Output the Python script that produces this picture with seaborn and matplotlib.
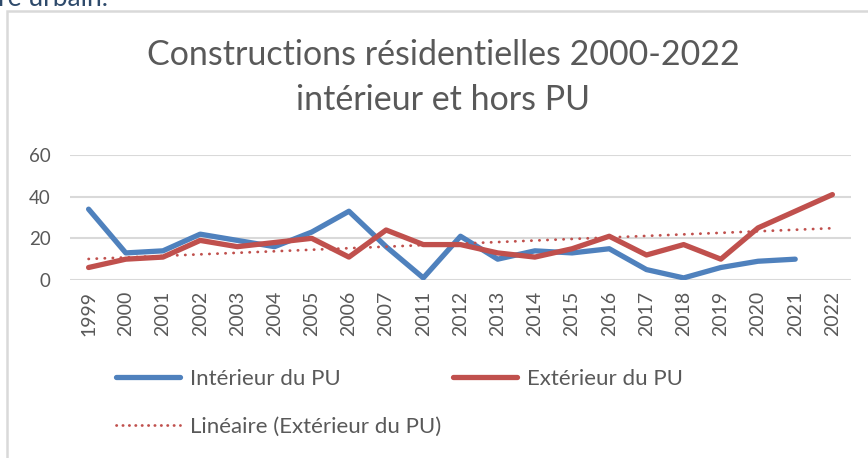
import numpy as np
import matplotlib
matplotlib.use("Agg")
import matplotlib.pyplot as plt
from matplotlib.patches import Rectangle
from matplotlib.lines import Line2D
import seaborn as sns

years = ["1999", "2000", "2001", "2002", "2003", "2004", "2005", "2006", "2007",
         "2011", "2012", "2013", "2014", "2015", "2016", "2017", "2018", "2019",
         "2020", "2021", "2022"]
interieur = [34, 13, 14, 22, 19, 16, 23, 33, 16, 1, 21, 10, 14, 13, 15, 5, 1, 6, 9, 10, np.nan]
exterieur = [6, 10, 11, 19, 16, 18, 20, 11, 24, 17, 17, 13, 11, 15, 21, 12, 17, 10, 25, 33, 41]

BLUE = "#4F81BD"
RED = "#C0504D"
GREY = "#595959"

sns.set_style("white")
plt.rcParams["font.family"] = ["Lato", "DejaVu Sans"]

fig = plt.figure(figsize=(8.68, 4.58), dpi=100)
ax = fig.add_axes([70 / 868, 1 - 280 / 458, 781 / 868, 125 / 458])

x = np.arange(len(years))
sns.lineplot(x=x, y=interieur, ax=ax, color=BLUE, linewidth=3.8, solid_capstyle="round")
sns.lineplot(x=x, y=exterieur, ax=ax, color=RED, linewidth=3.8, solid_capstyle="round")

# linear trend of the exterior series (Excel "Linéaire")
slope, intercept = np.polyfit(x, exterieur, 1)
trend = slope * x + intercept
sns.lineplot(x=x, y=trend, ax=ax, color=RED, linewidth=2, linestyle=(0, (0.1, 2.8)),
             dash_capstyle="round")

ax.set_ylim(0, 60)
ax.set_xlim(-0.5, len(years) - 0.5)
ax.set_yticks([0, 20, 40, 60])
ax.set_xticks(x)
ax.set_xticklabels(years, rotation=90)
ax.tick_params(axis="both", length=0, labelsize=13.5, labelcolor=GREY)
ax.tick_params(axis="x", labelsize=14, pad=8)
ax.tick_params(axis="y", pad=14)
ax.yaxis.grid(True, color="#D9D9D9", linewidth=1.5)
ax.set_axisbelow(True)
for s in ax.spines.values():
    s.set_visible(False)

fig.text(443 / 868, 1 - 55 / 458, "Constructions résidentielles 2000-2022",
         ha="center", va="center", fontsize=24.5, color=GREY)
fig.text(443 / 868, 1 - 100 / 458, "intérieur et hors PU",
         ha="center", va="center", fontsize=24.5, color=GREY)

# cut-off text from the page above the chart
fig.text(-0.002, 1 - 6 / 458, "re urbain.", ha="left", va="baseline",
         fontsize=19, color="#2E4A6B")

# chart border
fig.add_artist(Rectangle((7 / 868, -0.2), 1.2, 1.2 - 11 / 458, transform=fig.transFigure,
                         fill=False, edgecolor="#D9D9D9", linewidth=1.8))

handles = [
    Line2D([], [], color=BLUE, linewidth=3.8, solid_capstyle="round"),
    Line2D([], [], color=RED, linewidth=2, linestyle=(0, (0.1, 2.2)), dash_capstyle="round"),
    Line2D([], [], color=RED, linewidth=3.8, solid_capstyle="round"),
]
labels = ["Intérieur du PU", "Linéaire (Extérieur du PU)", "Extérieur du PU"]
fig.legend(handles, labels, ncol=2, loc="upper left",
           bbox_to_anchor=(116 / 868, 1 - 369 / 458), frameon=False,
           fontsize=16, labelcolor=GREY, handlelength=2.9, handletextpad=0.45,
           columnspacing=0.5, labelspacing=1.25, borderpad=0, borderaxespad=0)

fig.savefig("out.png", dpi=100)
